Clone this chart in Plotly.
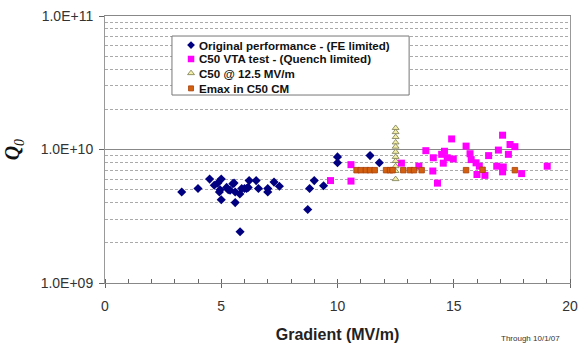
import plotly.graph_objects as go

# ---- data (Q0 values in units of 1e9) ----
orig_x = [3.3, 4.0, 4.5, 4.7, 4.85, 4.95, 5.0, 4.92, 5.0, 5.23, 5.3, 5.38, 5.5, 5.55, 5.6, 5.6,
          5.8, 5.88, 5.81, 6.0, 6.09, 6.2, 6.16, 6.5, 6.6, 7.0, 7.0, 7.27, 7.5, 8.72, 8.8, 9.0,
          9.4, 10.0, 10.0, 11.4, 11.8]
orig_q = [4.8, 5.1, 6.0, 5.4, 5.6, 5.0, 6.0, 4.8, 4.2, 5.2, 5.0, 4.95, 5.55, 5.6, 4.8, 4.0,
          4.65, 5.1, 2.42, 5.1, 5.1, 5.85, 5.2, 5.85, 5.1, 5.1, 4.8, 5.7, 5.3, 3.55, 5.1, 5.85,
          5.35, 8.8, 7.95, 9.0, 7.95]

vta_x = [9.7, 10.58, 10.58, 12.75, 13.5, 13.8, 14.1, 14.12, 14.3, 14.48, 14.55, 14.6, 14.72,
         14.91, 14.98, 15.53, 15.7, 15.75, 15.96, 16.0, 16.1, 16.34, 16.5, 16.85, 16.92, 17.1,
         17.13, 17.1, 17.35, 17.42, 17.63, 17.92, 19.02]
vta_q = [5.85, 7.7, 5.8, 7.9, 7.5, 9.8, 6.9, 8.67, 5.6, 9.2, 7.9, 9.7, 8.67,
         12.0, 8.5, 10.6, 9.3, 8.4, 7.95, 6.5, 7.5, 6.4, 9.0, 7.5, 9.9, 12.8,
         7.4, 6.8, 9.2, 10.9, 10.5, 6.6, 7.5]

c125_x = [12.5] * 11
c125_q = [14.5, 13.5, 12.4, 11.3, 10.5, 9.6, 8.8, 8.2, 7.5, 6.9, 6.0]

emax_x = [10.82, 11.0, 11.22, 11.4, 11.6, 12.09, 12.26, 12.37, 12.83, 13.12, 13.29, 13.62,
          15.53, 16.24, 17.63]
emax_q = [7.0, 7.0, 7.0, 7.0, 7.0, 7.0, 7.0, 7.0, 7.0, 7.0, 7.0, 7.0, 7.0, 7.05, 7.0]

names = ["Original performance - (FE limited)", "C50 VTA test - (Quench limited)",
         "C50 @ 12.5 MV/m", "Emax in C50 CM"]
x_ticks = [0, 5, 10, 15, 20]
y_major = [1e9, 1e10, 1e11]
y_major_text = ["1.0E+09", "1.0E+10", "1.0E+11"]
y_minor = [m * d for d in (1e9, 1e10) for m in range(2, 10)]

E9 = 1e9
FONT = "Arial, Liberation Sans, sans-serif"

styles = [
    dict(symbol="diamond", size=7, color="#000080", line=dict(width=0)),
    dict(symbol="square", size=7, color="#ff00ff", line=dict(width=0)),
    dict(symbol="triangle-up", size=6, color="#f4f0a8", line=dict(width=0.8, color="#7a7a50")),
    dict(symbol="square", size=5.5, color="#d2600f", line=dict(width=0.8, color="#a8400a")),
]

fig = go.Figure()
series = [(orig_x, orig_q), (vta_x, vta_q), (c125_x, c125_q), (emax_x, emax_q)]
for (xs, qs), st, nm in zip(series, styles, names):
    fig.add_trace(go.Scatter(x=xs, y=[q * E9 for q in qs], mode="markers", marker=st,
                             name=nm, showlegend=False, cliponaxis=False))

# manual legend: a separate 0..1 subplot laid over the plot area
leg_rows = [0.891, 0.839, 0.786, 0.729]
leg_styles = [
    dict(symbol="diamond", size=6, color="#000080"),
    dict(symbol="square", size=6.5, color="#ff00ff"),
    dict(symbol="triangle-up", size=6, color="#f4f0a8", line=dict(width=0.8, color="#7a7a50")),
    dict(symbol="square", size=5, color="#d2600f", line=dict(width=0.8, color="#a8400a")),
]
for yv, st in zip(leg_rows, leg_styles):
    fig.add_trace(go.Scatter(x=[0.185], y=[yv], xaxis="x2", yaxis="y2", mode="markers",
                             marker=st, showlegend=False, hoverinfo="skip"))
fig.add_shape(type="rect", xref="x2", yref="y2", x0=0.144, x1=0.654, y0=0.704, y1=0.925,
              fillcolor="white", line=dict(color="#777777", width=1), layer="below")
for yv, nm in zip(leg_rows, names):
    fig.add_annotation(xref="paper", yref="paper", x=0.198, y=yv, text="<b>" + nm + "</b>",
                       showarrow=False, xanchor="left", yanchor="middle",
                       font=dict(family=FONT, size=11.6, color="#111111"))

fig.add_annotation(xref="paper", yref="paper", x=-0.196, y=0.5, xanchor="center", yanchor="middle",
                   text="<b><i>Q</i></b><sub><i>0</i></sub>", textangle=-90, showarrow=False,
                   font=dict(family="Liberation Serif, serif", size=20, color="#111111"))
fig.add_annotation(xref="paper", yref="paper", x=0.914, y=-0.206, xanchor="center", yanchor="middle",
                   text="Through 10/1/07",
                   showarrow=False, font=dict(family=FONT, size=8, color="#333333"))

fig.update_layout(
    width=579, height=343,
    margin=dict(l=105, r=9, t=16, b=60),
    paper_bgcolor="white", plot_bgcolor="rgba(0,0,0,0)",
    showlegend=False,
    xaxis=dict(range=[0, 20], tickvals=x_ticks, ticks="outside", ticklen=4, tickcolor="#666666",
               automargin=False,
               showgrid=False, zeroline=False, showline=True, linecolor="#888888", mirror=True,
               tickfont=dict(family=FONT, size=14, color="#333333"), ticklabelstandoff=6,
               minor=dict(dtick=1, ticks="inside", ticklen=4, tickcolor="#666666", showgrid=False),
               title=dict(text="<b>Gradient (MV/m)</b>", font=dict(family=FONT, size=16, color="#222222"),
                          standoff=22)),
    yaxis=dict(type="log", range=[9, 11], tickmode="array", tickvals=y_major, ticktext=y_major_text,
               ticks="outside", ticklen=5, tickcolor="#666666", automargin=False,
               showgrid=True, gridcolor="#888888", gridwidth=1, zeroline=False,
               showline=True, linecolor="#999999", mirror=True,
               tickfont=dict(family=FONT, size=14, color="#333333"), ticklabelstandoff=3,
               minor=dict(tickmode="array", tickvals=y_minor, ticks="", showgrid=True,
                          gridcolor="#aaaaaa", griddash="3px,2px", gridwidth=1)),
    xaxis2=dict(domain=[0, 1], range=[0, 1], anchor="y2", visible=False, fixedrange=True,
                automargin=False),
    yaxis2=dict(domain=[0, 1], range=[0, 1], anchor="x2", visible=False, fixedrange=True,
                automargin=False),
)

fig.write_html("out.html")
